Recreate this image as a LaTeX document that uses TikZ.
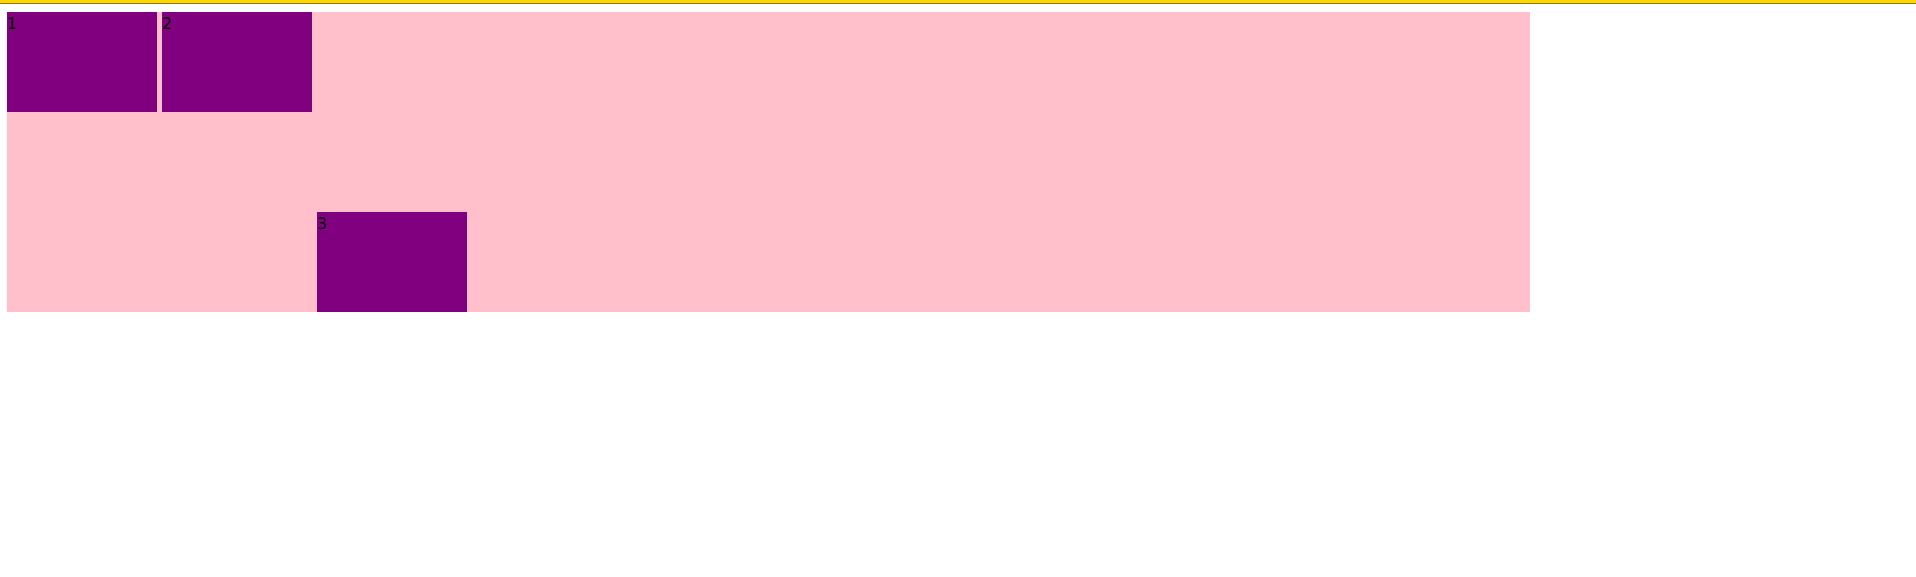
\documentclass[tikz,border=0pt]{standalone}
\usepackage{fontspec}
\setmainfont{DejaVu Sans}
\definecolor{boxpurple}{HTML}{800080}
\definecolor{bgpink}{HTML}{FFC0CB}
\definecolor{bargold}{HTML}{FFD700}
\definecolor{bardark}{HTML}{8C7A1A}
\begin{document}
\begin{tikzpicture}[x=1pt,y=-1pt,
  cell/.style={fill=boxpurple, draw=none, inner sep=0pt, minimum width=150pt, minimum height=100pt, anchor=north west},
  num/.style={inner sep=0pt, anchor=base west, font=\fontsize{16pt}{19pt}\selectfont, text=black}]
\useasboundingbox (0,0) rectangle (1916,577);
\fill[white] (0,0) rectangle (1916,577);
% top bar
\fill[bargold] (0,0) rectangle (1916,3.2);
\fill[bardark] (0,3.2) rectangle (1916,4.2);
% container
\node (container) [fill=bgpink, inner sep=0pt, minimum width=1523pt, minimum height=300pt, anchor=north west] at (7,12) {};
% boxes
\node (box1) [cell] at (7,12) {};
\node (box2) [cell] at (162,12) {};
\node (box3) [cell] at (317,212) {};
\node (lbl1) [num] at ([xshift=0pt,yshift=-17.3pt]box1.north west) {1};
\node (lbl2) [num] at ([xshift=0pt,yshift=-17.3pt]box2.north west) {2};
\node (lbl3) [num] at ([xshift=0pt,yshift=-17.3pt]box3.north west) {3};
\end{tikzpicture}
\end{document}
